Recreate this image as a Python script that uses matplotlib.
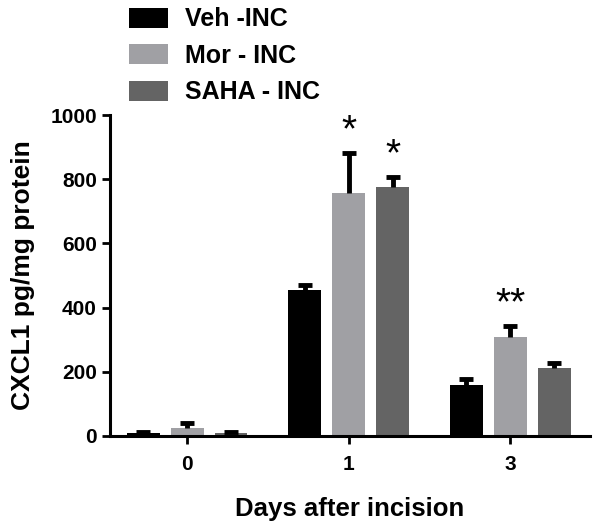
import matplotlib.pyplot as plt
import numpy as np

plt.rcParams['font.family'] = ['Liberation Sans', 'DejaVu Sans']
plt.rcParams['font.weight'] = 'bold'

days = ["0", "1", "3"]
groups = ["Veh -INC", "Mor - INC", "SAHA - INC"]
colors = ["#000000", "#a0a0a4", "#646464"]

veh = [8, 455, 159]
mor = [25, 757, 308]
saha = [10, 776, 212]
veh_err = [3, 15, 18]
mor_err = [15, 125, 35]
saha_err = [3, 31, 15]

stars = {(1, 1): "*", (1, 2): "*", (2, 1): "**"}

fig = plt.figure(figsize=(6.01, 5.27), dpi=100)
ax = fig.add_axes([0.183, 0.1727, 0.799, 0.609])

x = np.arange(len(days))
w = 0.204
step = 0.272
series = [veh, mor, saha]
errs = [veh_err, mor_err, saha_err]

for i, (vals, err, col, name) in enumerate(zip(series, errs, colors, groups)):
    pos = x + (i - 1) * step
    ax.bar(pos, vals, width=w, color=col, label=name, zorder=2)
    eb = ax.errorbar(pos, vals, yerr=[np.zeros(len(err)), err], fmt="none",
                     ecolor="black", elinewidth=3.5, capsize=5, capthick=3.5, zorder=3)
    # only the upper cap, like GraphPad
    eb[1][0].set_visible(False)

for (g, s), txt in stars.items():
    top = series[s][g] + errs[s][g]
    ax.text(x[g] + (s - 1) * step, top + 12, txt, ha="center", va="bottom",
            fontsize=28, fontweight="normal")

ax.set_xlim(-0.477, 2.495)
ax.set_ylim(0, 1000)
ax.set_xticks(x)
ax.set_xticklabels(days)
ax.set_yticks(range(0, 1001, 200))
ax.tick_params(axis="both", labelsize=15, width=2, length=6, direction="out")
ax.tick_params(axis="x", pad=8)
for lab in ax.get_xticklabels() + ax.get_yticklabels():
    lab.set_fontweight("bold")

ax.spines["top"].set_visible(False)
ax.spines["right"].set_visible(False)
ax.spines["left"].set_linewidth(2.2)
ax.spines["bottom"].set_linewidth(2.2)

ax.set_ylabel("CXCL1 pg/mg protein", fontsize=19, fontweight="bold", labelpad=11)
ax.set_xlabel("Days after incision", fontsize=18.5, fontweight="bold", labelpad=16)

leg = fig.legend(loc="upper left", bbox_to_anchor=(0.194, 1.01), frameon=False,
                 fontsize=18, handlelength=1.55, handleheight=0.85,
                 labelspacing=0.5, handletextpad=0.7, borderpad=0.0)
for t in leg.get_texts():
    t.set_fontweight("bold")

fig.savefig("out.png", dpi=100)
